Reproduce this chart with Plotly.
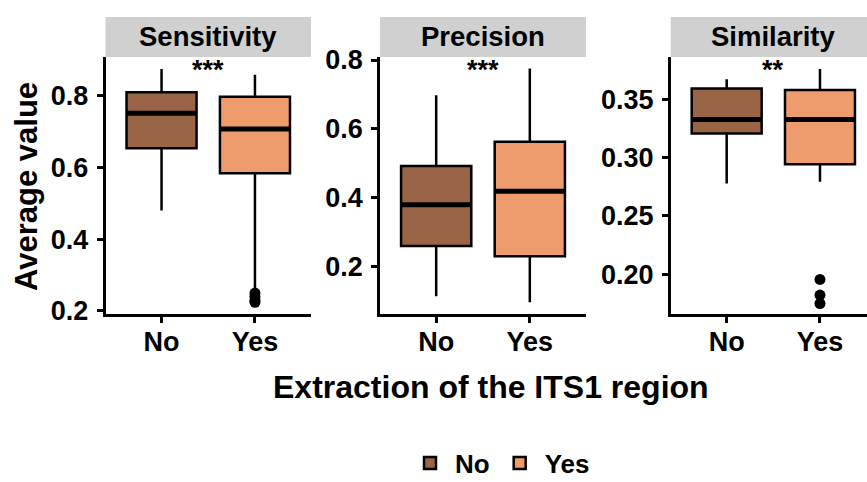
import plotly.graph_objects as go

# ---- data ----
panels = ["Sensitivity", "Precision", "Similarity"]
groups = ["No", "Yes"]
group_pos = [1, 2]

q1_vals = {"Sensitivity": [0.653, 0.584], "Precision": [0.260, 0.230], "Similarity": [0.3206, 0.2941]}
med_vals = {"Sensitivity": [0.751, 0.707], "Precision": [0.380, 0.419], "Similarity": [0.3326, 0.3326]}
q3_vals = {"Sensitivity": [0.809, 0.797], "Precision": [0.492, 0.563], "Similarity": [0.3590, 0.3577]}
low_vals = {"Sensitivity": [0.480, 0.259], "Precision": [0.114, 0.097], "Similarity": [0.2778, 0.2792]}
high_vals = {"Sensitivity": [0.874, 0.858], "Precision": [0.698, 0.775], "Similarity": [0.3670, 0.3757]}
outliers_yes = {"Sensitivity": [0.250, 0.240, 0.230, 0.224], "Precision": [], "Similarity": [0.1956, 0.1822, 0.1750]}
signif = {"Sensitivity": "***", "Precision": "***", "Similarity": "**"}

y_ranges = {"Sensitivity": [0.1916, 0.9075], "Precision": [0.0627, 0.8087], "Similarity": [0.166, 0.386]}
y_ticks = {"Sensitivity": [0.2, 0.4, 0.6, 0.8], "Precision": [0.2, 0.4, 0.6, 0.8],
           "Similarity": [0.20, 0.25, 0.30, 0.35]}
y_ticktext = {"Sensitivity": ["0.2", "0.4", "0.6", "0.8"], "Precision": ["0.2", "0.4", "0.6", "0.8"],
              "Similarity": ["0.20", "0.25", "0.30", "0.35"]}

colors = {"No": "#9A6446", "Yes": "#EE9C6C"}

# ---- layout geometry ----
W, H = 867, 482
panel_w = 205.5
x_lefts = [105.5, 380, 670.7]
x_domains = [[105.5 / W, 311 / W], [380 / W, 586 / W], [670.7 / W, 1.0]]
x_ranges = [[0.4, 2.6], [0.4, 2.6], [0.4, 2.504]]
y_domain = [(H - 314) / H, (H - 57) / H]
strip_top = (H - 17) / H
box_w = 0.75

FONT = "Liberation Sans, Arial, sans-serif"

fig = go.Figure()
for i, p in enumerate(panels):
    xa = "x" if i == 0 else f"x{i+1}"
    ya = "y" if i == 0 else f"y{i+1}"
    for j, g in enumerate(groups):
        fig.add_trace(go.Box(
            x=[group_pos[j]], q1=[q1_vals[p][j]], median=[med_vals[p][j]], q3=[q3_vals[p][j]],
            lowerfence=[low_vals[p][j]], upperfence=[high_vals[p][j]],
            width=box_w, whiskerwidth=0, fillcolor=colors[g],
            line=dict(color="black", width=2.5), name=g, legendgroup=g,
            showlegend=(i == 0), boxpoints=False, xaxis=xa, yaxis=ya, hoverinfo="skip"))
        # thicker median line (ggplot fatten)
        fig.add_trace(go.Scatter(
            x=[group_pos[j] - box_w / 2, group_pos[j] + box_w / 2],
            y=[med_vals[p][j], med_vals[p][j]], mode="lines",
            line=dict(color="black", width=5), showlegend=False, xaxis=xa, yaxis=ya,
            hoverinfo="skip"))
    if outliers_yes[p]:
        fig.add_trace(go.Scatter(
            x=[group_pos[1]] * len(outliers_yes[p]), y=outliers_yes[p], mode="markers",
            marker=dict(color="black", size=11), showlegend=False, xaxis=xa, yaxis=ya,
            hoverinfo="skip"))

    xkey = "xaxis" if i == 0 else f"xaxis{i+1}"
    ykey = "yaxis" if i == 0 else f"yaxis{i+1}"
    fig.layout[xkey] = dict(
        domain=x_domains[i], range=x_ranges[i], anchor=ya, tickmode="array",
        tickvals=group_pos, ticktext=groups, showgrid=False, zeroline=False,
        showline=True, linecolor="black", linewidth=2.7, ticks="outside", ticklen=6,
        tickwidth=2.7, tickcolor="black", ticklabelstandoff=-4,
        tickfont=dict(family=FONT, size=27, color="black", weight="bold"))
    fig.layout[ykey] = dict(
        domain=y_domain, range=y_ranges[p], anchor=xa, tickmode="array",
        tickvals=y_ticks[p], ticktext=y_ticktext[p], showgrid=False, zeroline=False,
        showline=True, linecolor="black", linewidth=2.7, ticks="outside", ticklen=6,
        tickwidth=2.7, tickcolor="black", ticklabelstandoff=3,
        tickfont=dict(family=FONT, size=27, color="black", weight="bold"))

    # facet strip
    fig.add_shape(type="rect", xref="paper", yref="paper",
                  x0=x_domains[i][0], x1=x_domains[i][1], y0=y_domain[1], y1=strip_top,
                  fillcolor="#D0D0D0", line=dict(width=0), layer="below")
    fig.add_annotation(xref="paper", yref="paper",
                       x=(x_lefts[i] + panel_w / 2) / W,
                       y=(y_domain[1] + strip_top) / 2, text=f"<b>{p}</b>", showarrow=False,
                       font=dict(family=FONT, size=27.5, color="black"),
                       xanchor="center", yanchor="middle")
    # significance
    fig.add_annotation(xref=xa, yref=f"{ya} domain", x=1.5, y=1 + 3 / 257, text=f"<b>{signif[p]}</b>",
                       showarrow=False, font=dict(family=FONT, size=27, color="black"),
                       xanchor="center", yanchor="top", borderpad=0)

# axis titles
fig.add_annotation(xref="paper", yref="paper", x=27 / W, y=1 - 187 / H, text="<b>Average value</b>",
                   textangle=-90, showarrow=False, font=dict(family=FONT, size=31, color="black"),
                   xanchor="center", yanchor="middle")
fig.add_annotation(xref="paper", yref="paper", x=491 / W, y=1 - 387 / H,
                   text="<b>Extraction of the ITS1 region</b>", showarrow=False,
                   font=dict(family=FONT, size=32, color="black"), xanchor="center", yanchor="middle")

fig.update_layout(
    width=W, height=H, margin=dict(l=0, r=0, t=0, b=0, autoexpand=False),
    paper_bgcolor="white", plot_bgcolor="white",
    legend=dict(orientation="h", x=500 / W, y=1 - 463 / H, xanchor="center", yanchor="middle",
                font=dict(family=FONT, size=26, color="black", weight="bold"),
                itemwidth=40, bgcolor="rgba(0,0,0,0)"),
    boxmode="overlay",
)

fig.write_html("out.html")
